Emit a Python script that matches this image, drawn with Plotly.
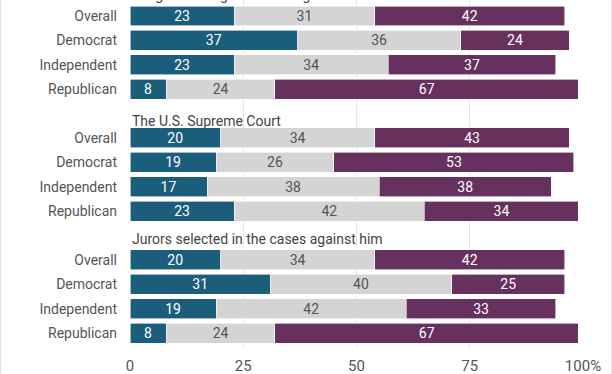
import plotly.graph_objects as go

groups = ["Judges hearing the cases against him",
          "The U.S. Supreme Court",
          "Jurors selected in the cases against him"]
rows = ["Overall", "Democrat", "Independent", "Republican"]

blue_vals = [[23, 37, 23, 8], [20, 19, 17, 23], [20, 31, 19, 8]]
gray_vals = [[31, 36, 34, 24], [34, 26, 38, 42], [34, 40, 42, 24]]
purple_vals = [[42, 24, 37, 67], [43, 53, 38, 34], [42, 25, 33, 67]]

x_ticks = [0, 25, 50, 75, 100]
x_ticktext = ["0", "25", "50", "75", "100%"]

BLUE = "#1b5e7c"
GRAY = "#d4d4d4"
PURPLE = "#66305f"
FONT = "Roboto"

# slot layout: each group = title slot + 4 row slots
ypos, ylab, title_slots = [], [], []
for g in range(len(groups)):
    base = g * (len(rows) + 1)
    title_slots.append(base)
    for r, lab in enumerate(rows):
        ypos.append(base + 1 + r)
        ylab.append(lab)

def flat(v):
    return [x for grp in v for x in grp]

series = [(flat(blue_vals), BLUE, "white"),
          (flat(gray_vals), GRAY, "#555555"),
          (flat(purple_vals), PURPLE, "white")]

fig = go.Figure()
for vals, col, tcol in series:
    fig.add_trace(go.Bar(
        x=vals, y=ypos, orientation="h",
        marker=dict(color=col, line=dict(color="white", width=0.6)),
        text=[str(v) for v in vals], textposition="inside",
        insidetextanchor="middle", textangle=0,
        textfont=dict(family=FONT, size=14, color=tcol),
        hoverinfo="skip", showlegend=False,
    ))

y_top = 0.344
y_bot = 14.615
def paper_y(k):
    return (y_bot - k) / (y_bot - y_top)

title_offsets = [0.14, 0.3, 0.16]
for g, t in enumerate(groups):
    fig.add_annotation(
        text=t, xref="paper", yref="paper", x=0,
        y=paper_y(title_slots[g] + title_offsets[g]),
        xanchor="left", yanchor="middle", showarrow=False,
        font=dict(family=FONT, size=14, color="#444444"),
    )

W, H, L, R, T, B = 612, 374, 130, 29, 0, 26
pw = W - L - R
for px in (0.5, W - 0.5):
    xp = (px - L) / pw
    fig.add_shape(type="line", xref="paper", yref="paper",
                  x0=xp, x1=xp, y0=-B / (H - T - B), y1=1.0,
                  line=dict(color="#e4e4e4", width=1), layer="below")

fig.update_layout(
    width=W, height=H, barmode="stack", bargap=0.18,
    margin=dict(l=L, r=R, t=T, b=B, autoexpand=False),
    paper_bgcolor="white", plot_bgcolor="white",
    uniformtext=dict(minsize=14, mode="show"),
    xaxis=dict(range=[0, 100], tickvals=x_ticks, ticktext=x_ticktext,
               showgrid=True, gridcolor="#e6e6e6", gridwidth=1,
               zeroline=False, showline=False, automargin=False,
               ticks="outside", ticklen=4, tickcolor="rgba(0,0,0,0)",
               tickfont=dict(family=FONT, size=15, color="#555555")),
    yaxis=dict(range=[y_bot, y_top], tickvals=ypos, ticktext=ylab,
               showgrid=False, zeroline=False, showline=False,
               automargin=False, ticklabelstandoff=12,
               tickfont=dict(family=FONT, size=14, color="#555555")),
)

fig.write_html("out.html", config={"displayModeBar": False},
               post_script="document.body.style.margin='0';document.body.style.overflow='hidden';")
